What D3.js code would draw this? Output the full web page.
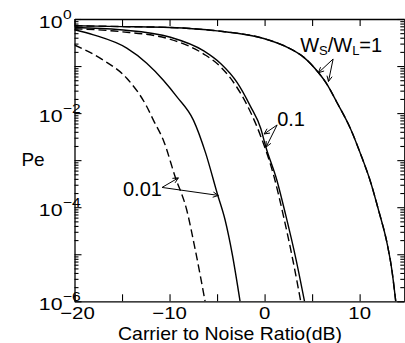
<!DOCTYPE html>
<html><head><meta charset="utf-8">
<script src="https://cdn.jsdelivr.net/npm/d3@7"></script>
<style>
body{margin:0;background:#fff}
svg{display:block}
text{font-family:"Liberation Sans",Arial,Helvetica,sans-serif;fill:#000}
</style>
</head><body>
<svg id="chart" width="405" height="343"></svg>
<script>
// ---------- data ----------
const xTickLabels = [-20, -10, 0, 10];
const xTickMarks = [-20, -15, -10, -5, 0, 5, 10];
const yTickExponents = [0, -2, -4, -6];
const xAxisTitle = "Carrier to Noise Ratio(dB)";
const yAxisTitle = "Pe";

// Ws/Wl = 1 (solid and dashed coincide)
const r1_dB = [-20, -15, -10, -5, 0, 2.4, 4.1, 5.7, 6.6, 7.6, 9.05, 10.1, 11.2, 12.0, 12.9, 13.4, 13.8];
const r1_Pe = [0.72, 0.69, 0.66, 0.56, 0.38, 0.25, 0.155, 0.071, 0.040, 0.017, 4.6e-3, 1.35e-3, 3.2e-4, 8.5e-5, 1.66e-5, 4.5e-6, 1.0e-6];

// Ws/Wl = 0.1
const r01s_dB = [-20, -15.2, -9.9, -6.4, -4.6, -2.9, -1.5, -0.4, 0.1, 1.3, 2.2, 3.3, 4.2];
const r01s_Pe = [0.66, 0.59, 0.41, 0.21, 0.112, 0.045, 0.0141, 4.7e-3, 2.0e-3, 3.7e-4, 7.1e-5, 7.9e-6, 1e-6];
const r01d_dB = [-20, -15.2, -9.9, -6.4, -4.6, -2.9, -1.5, -0.4, 1.0, 2.0, 3.0, 3.8];
const r01d_Pe = [0.62, 0.54, 0.37, 0.18, 0.095, 0.035, 0.0107, 3.2e-3, 4.4e-4, 6.3e-5, 7.1e-6, 1e-6];

// Ws/Wl = 0.01
const r001s_dB = [-20, -18, -14.5, -12.4, -10.65, -9.24, -7.49, -6.2, -4.95, -4.16, -3.4, -2.58];
const r001s_Pe = [0.59, 0.46, 0.24, 0.115, 0.050, 0.0224, 7.1e-3, 1.41e-3, 1.86e-4, 5.4e-5, 1e-5, 1e-6];
const r001d_dB = [-20, -17, -14.5, -12.4, -11.7, -10.6, -9.42, -8.19, -7.3, -6.26];
const r001d_Pe = [0.28, 0.135, 0.055, 0.0138, 7.1e-3, 2.5e-3, 4.5e-4, 8.7e-5, 1.26e-5, 1e-6];

// annotations (data units: dB, Pe)
const annotLabelPos = [[3.74, 0.202], [1.32, 5.4e-3], [-14.9, 1.74e-4]];
const arrowFrom = [[7.21, 0.141], [7.21, 0.141], [1.32, 5.6e-3], [1.32, 5.6e-3], [-10.79, 2.63e-4], [-10.79, 2.63e-4]];
const arrowTo   = [[5.66, 0.072], [6.72, 0.047], [-0.05, 3.6e-3], [0.16, 1.9e-3], [-9.07, 4.2e-4], [-4.86, 1.78e-4]];

// ---------- drawing ----------
const svg = d3.select("#chart");
const L = 74.5, R = 404.3, T = 19, B = 301.3;
const x = d3.scaleLinear().domain([-20, 14.7]).range([L, R]);
const y = d3.scaleLog().domain([1, 1e-6]).range([T, B]);

svg.append("defs").append("clipPath").attr("id", "clip")
  .append("rect").attr("x", L).attr("y", T).attr("width", R - L).attr("height", B - T);

// log ticks
const majorY = d3.range(0, -7, -1).map(e => Math.pow(10, e));
const minorY = [];
for (let e = -6; e < 0; e++) for (let m = 2; m <= 9; m++) minorY.push(m * Math.pow(10, e));

function styleAxis(g) {
  g.selectAll("path.domain").attr("stroke", "#000").attr("stroke-width", 1.3);
  g.selectAll(".tick line").attr("stroke", "#000").attr("stroke-width", 1.1);
  g.selectAll(".tick text").remove();
}
svg.append("g").attr("transform", `translate(0,${B})`)
  .call(d3.axisBottom(x).tickValues(xTickMarks).tickSize(-7).tickSizeOuter(0).tickFormat("")).call(styleAxis);
svg.append("g").attr("transform", `translate(0,${T})`)
  .call(d3.axisTop(x).tickValues(xTickMarks).tickSize(-7).tickSizeOuter(0).tickFormat("")).call(styleAxis);
svg.append("g").attr("transform", `translate(${L},0)`)
  .call(d3.axisLeft(y).tickValues(majorY).tickSize(-7).tickSizeOuter(0).tickFormat("")).call(styleAxis);
svg.append("g").attr("transform", `translate(${L},0)`)
  .call(d3.axisLeft(y).tickValues(minorY).tickSize(-4).tickSizeOuter(0).tickFormat("")).call(styleAxis)
  .select("path.domain").remove();
svg.append("g").attr("transform", `translate(${R},0)`)
  .call(d3.axisRight(y).tickValues(majorY).tickSize(-7).tickSizeOuter(0).tickFormat("")).call(styleAxis);
svg.append("g").attr("transform", `translate(${R},0)`)
  .call(d3.axisRight(y).tickValues(minorY).tickSize(-4).tickSizeOuter(0).tickFormat("")).call(styleAxis)
  .select("path.domain").remove();

// y tick labels 10^e
yTickExponents.forEach(e => {
  const yy = y(Math.pow(10, e));
  svg.append("g").attr("transform", `translate(62.5,${yy + 9})`)
    .append("text").attr("text-anchor", "end").attr("font-size", 17)
    .attr("transform", "scale(1.25,1)").text("10");
  svg.append("g").attr("transform", `translate(63,${yy})`)
    .append("text").attr("text-anchor", "start").attr("font-size", 13)
    .attr("transform", "scale(1.2,1)").text(e === 0 ? "0" : "\u2212" + (-e));
});

// x tick labels
xTickLabels.forEach((v, i) => {
  svg.append("g").attr("transform", `translate(${x(v) + (i === 0 ? 3 : 0)},${i === 0 ? 318.5 : 319})`)
    .append("text").attr("text-anchor", "middle").attr("font-size", 17)
    .attr("transform", "scale(1.2,1)").text(v < 0 ? "\u2212" + (-v) : String(v));
});

// axis titles
svg.append("text").attr("x", 230).attr("y", 339.5).attr("text-anchor", "middle")
  .attr("font-size", 19).attr("textLength", 224).attr("lengthAdjust", "spacingAndGlyphs").text(xAxisTitle);
svg.append("text").attr("x", 33).attr("y", 166).attr("text-anchor", "middle")
  .attr("font-size", 19).text(yAxisTitle);

// curves
const line = d3.line().x(d => x(d[0])).y(d => y(d[1])).curve(d3.curveMonotoneX);
const series = [
  {dB: r1_dB, pe: r1_Pe, dash: null},
  {dB: r1_dB, pe: r1_Pe, dash: "8,4"},
  {dB: r01s_dB, pe: r01s_Pe, dash: null},
  {dB: r01d_dB, pe: r01d_Pe, dash: "8,4"},
  {dB: r001s_dB, pe: r001s_Pe, dash: null},
  {dB: r001d_dB, pe: r001d_Pe, dash: "8,4"}
];
const cg = svg.append("g").attr("clip-path", "url(#clip)");
series.forEach(s => {
  cg.append("path").datum(d3.zip(s.dB, s.pe))
    .attr("d", line).attr("fill", "none").attr("stroke", "#000")
    .attr("stroke-width", 1.4).attr("stroke-dasharray", s.dash);
});

// annotation labels
const t0 = svg.append("text").attr("x", x(annotLabelPos[0][0])).attr("y", y(annotLabelPos[0][1])).attr("font-size", 20);
t0.append("tspan").text("W");
t0.append("tspan").attr("font-size", 13).attr("dy", 3.5).text("S");
t0.append("tspan").attr("dy", -3.5).text("/W");
t0.append("tspan").attr("font-size", 13).attr("dy", 3.5).text("L");
t0.append("tspan").attr("dy", -3.5).text("=1");
svg.append("text").attr("x", x(annotLabelPos[1][0])).attr("y", y(annotLabelPos[1][1])).attr("font-size", 20).text("0.1");
svg.append("text").attr("x", x(annotLabelPos[2][0])).attr("y", y(annotLabelPos[2][1])).attr("font-size", 20).text("0.01");

// arrows with open heads
arrowFrom.forEach((f, i) => {
  const x0 = x(f[0]), y0 = y(f[1]), x1 = x(arrowTo[i][0]), y1 = y(arrowTo[i][1]);
  const ang = Math.atan2(y1 - y0, x1 - x0), hl = 6, ha = 0.45;
  const p = d3.path();
  p.moveTo(x0, y0); p.lineTo(x1, y1);
  p.moveTo(x1 - hl * Math.cos(ang - ha), y1 - hl * Math.sin(ang - ha));
  p.lineTo(x1, y1);
  p.lineTo(x1 - hl * Math.cos(ang + ha), y1 - hl * Math.sin(ang + ha));
  svg.append("path").attr("d", p.toString()).attr("fill", "none").attr("stroke", "#000").attr("stroke-width", 1);
});
</script>
</body></html>
